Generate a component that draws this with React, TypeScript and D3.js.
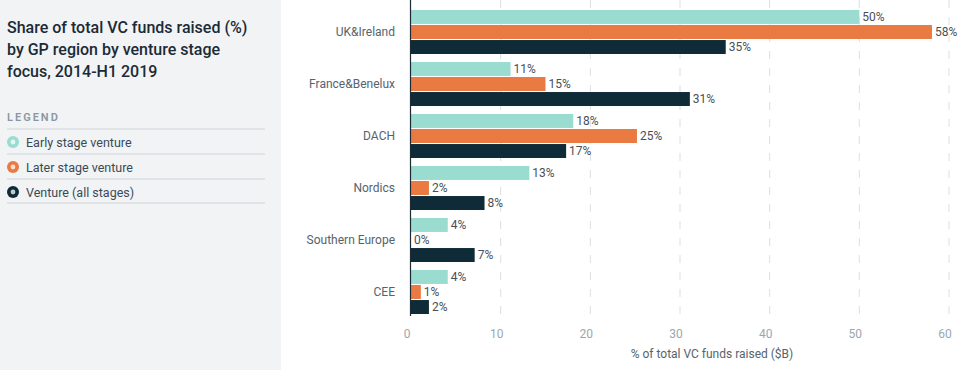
import React from "react";
import * as d3 from "d3";

// chart values
const regions = ["UK&Ireland", "France&Benelux", "DACH", "Nordics", "Southern Europe", "CEE"];
const seriesNames = ["Early stage venture", "Later stage venture", "Venture (all stages)"];
const earlyStage = [50.0, 11.1, 18.1, 13.2, 4.1, 4.1];
const laterStage = [58.1, 15.0, 25.2, 2.0, 0, 1.1];
const allStages = [35.1, 31.1, 17.3, 8.2, 7.1, 2.0];
const xTicks = [0, 10, 20, 30, 40, 50, 60];
const colors = ["#9bdcd0", "#e97a42", "#0e2b37"];

const W = 958, H = 370;
const font = "Roboto, 'Open Sans', sans-serif";

const App = () => {
  const series = [earlyStage, laterStage, allStages];

  const x = d3.scaleLinear().domain([0, 60]).range([411, 949]);
  const y0 = d3.scaleBand<string>().domain(regions).range([6, 318]).paddingInner(8 / 52).paddingOuter(4 / 52);
  const y1 = d3.scaleBand<string>().domain(seriesNames).range([0, y0.bandwidth()]).paddingInner(0.07);
  const fmt = d3.format(".0f");

  const titleLines = ["Share of total VC funds raised (%)", "by GP region by venture stage", "focus, 2014-H1 2019"];

  return (
    <div style={{ position: "absolute", left: 0, top: 0 }}>
      <svg width={W} height={H} style={{ display: "block", fontFamily: font }}>
        <rect x={0} y={0} width={W} height={H} fill="#fff" />
        {/* left panel */}
        <rect x={0} y={0} width={281} height={H} fill="#f1f3f5" />
        {titleLines.map((t, i) => (
          <text key={t} x={7} y={33 + i * 22} fontSize={16} fontWeight={500} fill="#1b2a35">{t}</text>
        ))}
        <text x={7} y={121} fontSize={11} fontWeight={600} fill="#8b979f" letterSpacing={2}>LEGEND</text>
        {[129, 154, 179, 203].map(ly => (
          <line key={ly} x1={7} x2={265} y1={ly} y2={ly} stroke="#cfd5d9" strokeWidth={1} />
        ))}
        {seriesNames.map((s, i) => (
          <g key={s} transform={`translate(0,${142 + i * 25})`}>
            <circle cx={13} cy={0} r={6} fill={colors[i]} />
            <circle cx={13} cy={0} r={2.4} fill="#ffffff" opacity={0.75} />
            <text x={26} y={4.5} fontSize={12.5} fill="#3b4a55">{s}</text>
          </g>
        ))}

        {/* grid */}
        {xTicks.slice(1).map(t => (
          <line key={t} x1={x(t)} x2={x(t)} y1={0} y2={314} stroke="#dcdfe2" strokeWidth={1} strokeDasharray="8,9" />
        ))}

        {/* bars */}
        {regions.map((r, ri) => (
          <g key={r} transform={`translate(0,${y0(r)})`}>
            {series.map((vals, si) => {
              const by = y1(seriesNames[si])!;
              const bh = y1.bandwidth();
              return (
                <g key={si}>
                  <rect x={x(0)} y={by} width={x(vals[ri]) - x(0)} height={bh} fill={colors[si]} />
                  <text x={x(vals[ri]) + 3} y={by + bh / 2 + 4} fontSize={12} fill="#4a4f55">{fmt(vals[ri])}%</text>
                </g>
              );
            })}
            <text x={395} y={y0.bandwidth() / 2 + 4} fontSize={12} textAnchor="end" fill="#56636d">{r}</text>
          </g>
        ))}

        {/* axis line */}
        <line x1={410.5} x2={410.5} y1={0} y2={316} stroke="#1b2a35" strokeWidth={1.2} />

        {/* x ticks */}
        {xTicks.map(t => (
          <text key={t} x={x(t) - 4} y={338} fontSize={12} textAnchor="middle" fill="#9aa7af">{t}</text>
        ))}
        <text x={712} y={358} fontSize={12} textAnchor="middle" fill="#56636d">% of total VC funds raised ($B)</text>
      </svg>
    </div>
  );
};

export default App;
